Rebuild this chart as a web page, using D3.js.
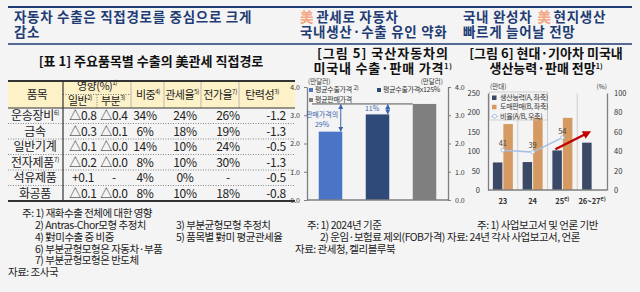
<!DOCTYPE html>
<html>
<head>
<meta charset="utf-8">
<script src="https://cdn.jsdelivr.net/npm/d3@7"></script>
<style>
  html, body { margin: 0; padding: 0; background: #f4f4f4; }
  svg { display: block; font-family: "Noto Sans CJK KR", "Noto Sans", sans-serif; }
</style>
</head>
<body>
<div id="chart"></div>
<script>
// 표 1 — 주요품목별 수출의 美관세 직접경로
const items = ['운송장비', '금속', '일반기계', '전자제품', '석유제품', '화공품'];
const itemSup = ['6)', '', '', '7)', '', ''];
const effGeneral = ['△0.8', '△0.3', '△0.1', '△0.2', '+0.1', '△0.1'];
const effPartial = ['△0.4', '△0.1', '△0.0', '△0.0', '-', '△0.0'];
const share = ['34%', '6%', '14%', '8%', '4%', '8%'];
const tariff = ['24%', '18%', '10%', '10%', '0%', '10%'];
const passThrough = ['26%', '19%', '24%', '30%', '-', '18%'];
const elasticity = ['-1.2', '-1.3', '-0.5', '-1.3', '-0.5', '-0.8'];

// 그림 5 — 국산자동차의 미국내 수출·판매 가격 (만달러)
const priceSeries = ['평균수출가격', '평균수출가격x125%', '평균판매가격'];
const priceValues = [2.42, 3.03, 3.40];
const priceTicks = [0, 1, 2, 3, 4];
const gapLabels = ['29%', '11%'];

// 그림 6 — 현대·기아차 미국내 생산능력·판매 전망 (만대, %)
const years = ['23', '24', '25', '26~27'];
const yearSup = ['', '', 'e)', 'e)'];
const capacity = [71, 72, 102, 122];
const sales = [170, 186, 186, null];
const ratio = [41, 39, 54, null];
const leftTicks = [0, 50, 100, 150, 200, 250];
const rightTicks = [0, 20, 40, 60, 80, 100];
const trendFrom = 42, trendTo = 59;   // 빨간 화살표 (우축 %)

const W = 640, H = 292;
const NAVY = '#1f3c74', ORANGE = '#f4a582', INK = '#222';

const svg = d3.select('#chart').append('svg').attr('width', W).attr('height', H);

// ---------- headlines ----------
svg.append('line').attr('x1', 8).attr('x2', 632).attr('y1', 7).attr('y2', 7)
  .attr('stroke', NAVY).attr('stroke-width', 2);
svg.append('line').attr('x1', 8).attr('x2', 632).attr('y1', 44).attr('y2', 44)
  .attr('stroke', NAVY).attr('stroke-width', 1.5);

// parts placed one after another, each its own text (美 in orange); g = gap after part
function headline(x, lines) {
  lines.forEach((parts, i) => {
    let cx = x;
    parts.forEach(p => {
      const s = typeof p === 'string' ? { t: p } : p;
      const t = svg.append('text').attr('x', cx).attr('y', 22 + i * 14.5)
        .attr('font-size', 13.5).attr('font-weight', 'bold').attr('letter-spacing', 0.7)
        .attr('fill', s.c || NAVY).text(s.t);
      cx += t.node().getComputedTextLength() + (s.g || 2);
    });
  });
}
headline(14, [['자동차 수출은 직접경로를 중심으로 크게'], ['감소']]);
headline(300, [[{ t: '美', c: ORANGE }, '관세로 자동차'], ['국내생산·수출 유인 약화']]);
headline(463, [[{ t: '국내 완성차', g: 5 }, { t: '美', c: ORANGE }, '현지생산'], ['빠르게 늘어날 전망']]);

// ---------- table ----------
svg.append('text').attr('x', 151).attr('y', 66).attr('text-anchor', 'middle')
  .attr('font-size', 13).attr('font-weight', 'bold').attr('fill', '#111')
  .text('[표 1] 주요품목별 수출의 美관세 직접경로');

const tL = 8, tR = 295, tTop = 81, hBot = 108, rowH = 15.5;
const tBot = hBot + rowH * items.length;
svg.append('rect').attr('x', tL).attr('y', tTop).attr('width', tR - tL).attr('height', hBot - tTop)
  .attr('fill', '#fdf1c8');

function cellText(x, y, main, sup, size, ls) {
  const t = svg.append('text').attr('x', x).attr('y', y).attr('text-anchor', 'middle')
    .attr('font-size', size || 12).attr('fill', INK).attr('letter-spacing', ls == null ? -0.3 : ls);
  t.append('tspan').text(main);
  if (sup) t.append('tspan').attr('font-size', 6.5).attr('dy', -5).text(sup);
  return t;
}

// header
cellText(37, 99, '품목', null, 11.5);
cellText(97, 90, '영향(%)', '1)', 11, -0.5);
cellText(80, 105, '일반', '2)', 11, -0.5);
cellText(113, 105, '부분', '3)', 11, -0.5);
cellText(148, 99, '비중', '4)', 11, -0.5);
cellText(182, 99, '관세율', '5)', 11, -0.5);
cellText(220, 99, '전가율', '7)', 11, -0.5);
cellText(262, 99, '탄력성', '3)', 11, -0.5);

svg.append('line').attr('x1', 63).attr('x2', 131).attr('y1', 94.5).attr('y2', 94.5)
  .attr('stroke', '#777').attr('stroke-dasharray', '1,1.5');
svg.append('line').attr('x1', 97).attr('x2', 97).attr('y1', 94.5).attr('y2', hBot)
  .attr('stroke', '#777').attr('stroke-dasharray', '1,1.5');
[131, 164, 201, 239].forEach(x => {
  svg.append('line').attr('x1', x).attr('x2', x).attr('y1', tTop).attr('y2', hBot)
    .attr('stroke', '#aaa').attr('stroke-width', 0.8);
});

// rows
const colX = [35, 83, 114, 145, 185, 228, 276];
items.forEach((it, i) => {
  const y = hBot + rowH * i + rowH / 2 + 4.5;
  cellText(colX[0], y, it, itemSup[i]);
  [effGeneral, effPartial, share, tariff, passThrough, elasticity].forEach((col, j) => {
    cellText(colX[j + 1], y, col[i]);
  });
  if (i > 0) {
    svg.append('line').attr('x1', tL).attr('x2', tR)
      .attr('y1', hBot + rowH * i).attr('y2', hBot + rowH * i)
      .attr('stroke', '#888').attr('stroke-dasharray', '1,1.5');
  }
});

svg.append('line').attr('x1', tL).attr('x2', tR).attr('y1', tTop).attr('y2', tTop)
  .attr('stroke', '#333').attr('stroke-width', 2);
svg.append('line').attr('x1', tL).attr('x2', tR).attr('y1', hBot).attr('y2', hBot)
  .attr('stroke', '#333').attr('stroke-width', 1);
svg.append('line').attr('x1', tL).attr('x2', tR).attr('y1', tBot).attr('y2', tBot)
  .attr('stroke', '#333').attr('stroke-width', 2);
svg.append('line').attr('x1', 63).attr('x2', 63).attr('y1', tTop).attr('y2', tBot)
  .attr('stroke', '#333').attr('stroke-width', 1.2);

function note(x, y, txt) {
  svg.append('text').attr('x', x).attr('y', y).attr('font-size', 10.5)
    .attr('letter-spacing', -0.5).attr('fill', INK).text(txt);
}
note(22, 217, '주: 1) 재화수출 전체에 대한 영향');
note(35, 229, '2) Antras-Chor모형 추정치');
note(176, 229, '3) 부분균형모형 추정치');
note(35, 241, '4) 對미수출 중 비중');
note(176, 241, '5) 품목별 對미 평균관세율');
note(35, 252.5, '6) 부분균형모형은 자동차·부품');
note(35, 264, '7) 부분균형모형은 반도체');
note(8, 275.5, '자료: 조사국');

// ---------- 그림 5 ----------
function title(x, y, main, sup, ls) {
  const t = svg.append('text').attr('x', x).attr('y', y).attr('text-anchor', 'middle')
    .attr('font-size', 13).attr('font-weight', 'bold').attr('letter-spacing', ls || 0).attr('fill', '#111');
  t.append('tspan').text(main);
  if (sup) t.append('tspan').attr('font-size', 7).attr('dy', -4).text(sup);
}
title(383, 57.5, '[그림 5] 국산자동차의', null, 1);
title(383, 72.5, '미국내 수출·판매 가격', '1)', 0.8);

const x5 = d3.scaleBand().domain(priceSeries).range([307, 448]).paddingInner(0.5).paddingOuter(0.25);
const y5 = d3.scaleLinear().domain([0, 4]).range([200, 87]);
const c5 = ['#4a74c6', '#2f4a78', '#7f7f7f'];

const g5 = svg.append('g');
g5.selectAll('rect.bar').data(priceSeries).join('rect')
  .attr('x', d => x5(d)).attr('width', x5.bandwidth())
  .attr('y', (d, i) => y5(priceValues[i])).attr('height', (d, i) => y5(0) - y5(priceValues[i]))
  .attr('fill', (d, i) => c5[i]);

function styleAxis(g, size) {
  g.selectAll('path').attr('stroke', '#7f7f7f').attr('stroke-width', 1.3);
  g.selectAll('line').attr('stroke', '#7f7f7f');
  g.selectAll('text').attr('font-size', size).attr('fill', '#333')
    .attr('font-family', '"Noto Sans CJK KR", sans-serif');
}
svg.append('g').attr('transform', 'translate(307,0)')
  .call(d3.axisLeft(y5).tickValues(priceTicks).tickSize(3).tickPadding(4).tickSizeOuter(0))
  .call(g => styleAxis(g, 7));
svg.append('g').attr('transform', 'translate(448,0)')
  .call(d3.axisRight(y5).tickValues(priceTicks).tickSize(3).tickPadding(4).tickSizeOuter(0))
  .call(g => styleAxis(g, 7));
svg.append('line').attr('x1', 307).attr('x2', 448).attr('y1', y5(0)).attr('y2', y5(0))
  .attr('stroke', '#7f7f7f').attr('stroke-width', 1.3);

svg.append('text').attr('x', 308).attr('y', 83.5).attr('font-size', 6.5).attr('fill', '#333').text('(만달러)');
svg.append('text').attr('x', 443).attr('y', 83.5).attr('text-anchor', 'end').attr('font-size', 6.5).attr('fill', '#333').text('(만달러)');

// legend
const leg5 = [[309, 92], [377, 92], [309, 102]];
priceSeries.forEach((s, i) => {
  const [lx, ly] = leg5[i];
  svg.append('rect').attr('x', lx).attr('y', ly - 4).attr('width', 4).attr('height', 4).attr('fill', c5[i]);
  const t = svg.append('text').attr('x', lx + 6).attr('y', ly).attr('font-size', 7)
    .attr('letter-spacing', -0.3).attr('fill', '#333').text(s);
  if (i === 0) t.append('tspan').attr('font-size', 6).attr('dx', 2).attr('dy', -2).text('2)');
});

// gap markers
const defs = svg.append('defs');
defs.append('marker').attr('id', 'ah').attr('viewBox', '0 0 10 10').attr('refX', 9).attr('refY', 5)
  .attr('markerWidth', 5).attr('markerHeight', 5).attr('orient', 'auto-start-reverse')
  .append('path').attr('d', 'M0,0L10,5L0,10z').attr('fill', '#3b63b0');
defs.append('marker').attr('id', 'ahRed').attr('viewBox', '0 0 10 10').attr('refX', 6).attr('refY', 5)
  .attr('markerWidth', 3.5).attr('markerHeight', 3.5).attr('orient', 'auto')
  .append('path').attr('d', 'M0,0L10,5L0,10z').attr('fill', '#c00000');

const topY = y5(priceValues[2]);
svg.append('line').attr('x1', 312).attr('x2', x5(priceSeries[2])).attr('y1', topY).attr('y2', topY)
  .attr('stroke', '#555').attr('stroke-width', 1);
[0, 1].forEach(i => {
  const ax = x5(priceSeries[i]) + x5.bandwidth() - 1.5;
  svg.append('line').attr('x1', ax).attr('x2', ax).attr('y1', topY + 0.5).attr('y2', y5(priceValues[i]) - 0.5)
    .attr('stroke', '#3b63b0').attr('stroke-width', 1)
    .attr('marker-start', 'url(#ah)').attr('marker-end', 'url(#ah)');
});
svg.append('text').attr('x', 322).attr('y', 117).attr('text-anchor', 'middle').attr('font-size', 7)
  .attr('fill', '#3b63b0').text('판매가격의');
svg.append('text').attr('x', 322).attr('y', 127).attr('text-anchor', 'middle').attr('font-size', 7)
  .attr('fill', '#3b63b0').text(gapLabels[0]);
svg.append('text').attr('x', 372).attr('y', 111).attr('text-anchor', 'middle').attr('font-size', 7)
  .attr('fill', '#3b63b0').text(gapLabels[1]);

note(307, 229, '주: 1) 2024년 기준');
note(320, 241, '2) 운임·보험료 제외(FOB가격)');
note(295, 252.5, '자료: 관세청, 켈리블루북');

// ---------- 그림 6 ----------
title(546, 57.5, '[그림 6] 현대·기아차 미국내');
title(546, 72.5, '생산능력·판매 전망', '1)');

const x6 = d3.scaleBand().domain(years).range([488, 607]);
const y6 = d3.scaleLinear().domain([0, 250]).range([190, 93]);
const y6r = d3.scaleLinear().domain([0, 100]).range([190, 93]);
const cap6 = '#3b4866', sal6 = '#d49a62', rat6 = '#a8bfe6';

// vertical grid at category boundaries
years.slice(1).forEach(c => {
  svg.append('line').attr('x1', x6(c)).attr('x2', x6(c)).attr('y1', 93).attr('y2', 190)
    .attr('stroke', '#cfcfcf').attr('stroke-width', 1);
});

const bw = 9.5;
svg.append('g').selectAll('rect').data(years).join('rect')
  .attr('x', d => x6(d) + x6.bandwidth() / 2 - bw - 0.5).attr('width', bw)
  .attr('y', (d, i) => y6(capacity[i])).attr('height', (d, i) => y6(0) - y6(capacity[i]))
  .attr('fill', cap6);
svg.append('g').selectAll('rect').data(years.filter((d, i) => sales[i] != null)).join('rect')
  .attr('x', d => x6(d) + x6.bandwidth() / 2 + 0.5).attr('width', bw)
  .attr('y', (d, i) => y6(sales[i])).attr('height', (d, i) => y6(0) - y6(sales[i]))
  .attr('fill', sal6);

const ratioPts = years.map((d, i) => [x6(d) + x6.bandwidth() / 2, ratio[i]]).filter(p => p[1] != null);
svg.append('path').datum(ratioPts)
  .attr('d', d3.line().x(p => p[0]).y(p => y6r(p[1])))
  .attr('fill', 'none').attr('stroke', rat6).attr('stroke-width', 1.6);
svg.append('g').selectAll('circle').data(ratioPts).join('circle')
  .attr('cx', p => p[0]).attr('cy', p => y6r(p[1])).attr('r', 1.8)
  .attr('fill', '#fff').attr('stroke', rat6).attr('stroke-width', 1);
svg.append('g').selectAll('text').data(ratioPts).join('text')
  .attr('x', p => p[0]).attr('y', p => y6r(p[1]) - 4).attr('text-anchor', 'middle')
  .attr('font-size', 7.5).attr('fill', '#444').text(p => p[1]);

// trend arrow
svg.append('line')
  .attr('x1', x6('25') + x6.bandwidth() / 2 - 7).attr('y1', y6r(trendFrom))
  .attr('x2', x6('26~27') + x6.bandwidth() / 2 - 4).attr('y2', y6r(trendTo))
  .attr('stroke', '#c00000').attr('stroke-width', 2.4).attr('marker-end', 'url(#ahRed)');

svg.append('g').attr('transform', 'translate(488,0)')
  .call(d3.axisLeft(y6).tickValues(leftTicks).tickSize(0).tickPadding(8))
  .call(g => styleAxis(g, 7.5));
svg.append('g').attr('transform', 'translate(607,0)')
  .call(d3.axisRight(y6r).tickValues(rightTicks).tickSize(0).tickPadding(7))
  .call(g => styleAxis(g, 7.5));
svg.append('line').attr('x1', 488).attr('x2', 607).attr('y1', 190).attr('y2', 190)
  .attr('stroke', '#7f7f7f').attr('stroke-width', 1.3);

years.forEach((d, i) => {
  const t = svg.append('text').attr('x', x6(d) + x6.bandwidth() / 2).attr('y', 204)
    .attr('text-anchor', 'middle').attr('font-size', 7.5).attr('font-weight', 'bold').attr('fill', '#333');
  t.append('tspan').text(d);
  if (yearSup[i]) t.append('tspan').attr('font-size', 5.5).attr('dy', -3).text(yearSup[i]);
});

svg.append('text').attr('x', 490).attr('y', 89).attr('font-size', 6.5).attr('fill', '#333').text('(만대)');
svg.append('text').attr('x', 607).attr('y', 89).attr('text-anchor', 'end').attr('font-size', 6.5).attr('fill', '#333').text('(%)');

// legend
svg.append('rect').attr('x', 489.5).attr('y', 92).attr('width', 58).attr('height', 28)
  .attr('fill', 'none').attr('stroke', '#bbb').attr('stroke-width', 0.6);
const leg6 = ['생산능력(A, 좌축)', '도매판매(B, 좌축)', '비율(A/B, 우축)'];
leg6.forEach((s, i) => {
  const ly = 100 + i * 9.3;
  if (i < 2) {
    svg.append('rect').attr('x', 492).attr('y', ly - 4.5).attr('width', 4.5).attr('height', 4.5)
      .attr('fill', i === 0 ? cap6 : sal6);
  } else {
    svg.append('line').attr('x1', 491).attr('x2', 498).attr('y1', ly - 2.3).attr('y2', ly - 2.3)
      .attr('stroke', rat6).attr('stroke-width', 1);
    svg.append('circle').attr('cx', 494.5).attr('cy', ly - 2.3).attr('r', 2)
      .attr('fill', '#fff').attr('stroke', rat6);
  }
  svg.append('text').attr('x', 500).attr('y', ly).attr('font-size', 7)
    .attr('letter-spacing', -0.3).attr('fill', '#333').text(s);
});

note(477, 229, '주: 1) 사업보고서 및 언론 기반');
note(447, 241, '자료: 24년 각사 사업보고서, 언론');
</script>
</body>
</html>
